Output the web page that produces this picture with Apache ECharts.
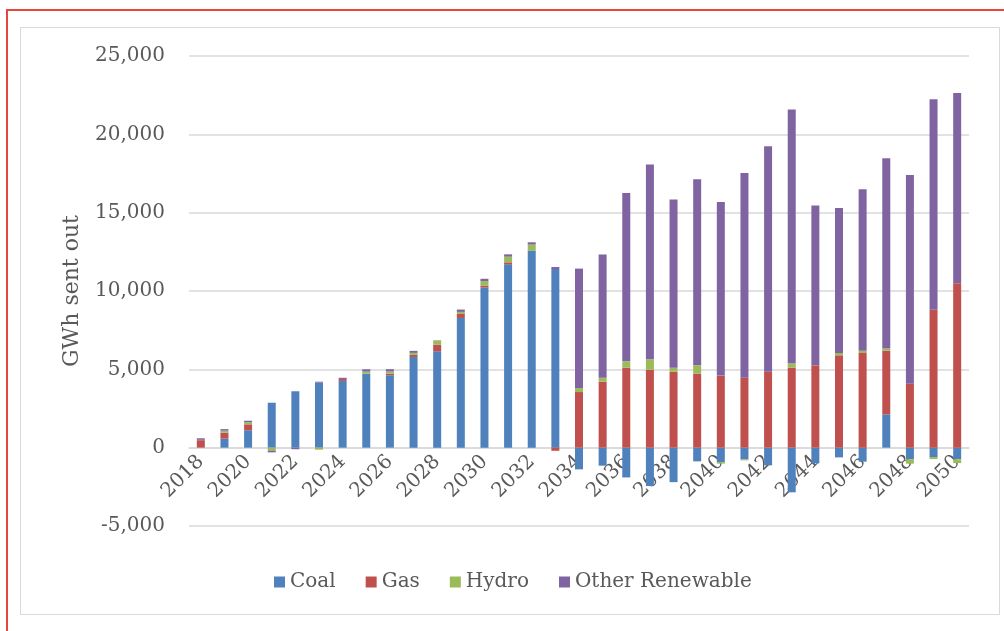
<!DOCTYPE html>
<html>
<head>
<meta charset="utf-8">
<script src="https://cdn.jsdelivr.net/npm/echarts@6/dist/echarts.min.js"></script>
<style>
  html, body { margin: 0; padding: 0; background: #fff; }
  #chart { width: 1004px; height: 631px; }
</style>
</head>
<body>
<div id="chart"></div>
<script>
// years on the x axis
const years = [];
for (let y = 2018; y <= 2050; y++) years.push(String(y));

// GWh sent out
const coal = [0, 575, 1110, 2870, 3600, 4150, 4260, 4725, 4620, 5790, 6150, 8280, 10220, 11700, 12580, 11400,
  -1385, -1150, -1900, -2450, -2200, -875, -920, -750, -1130, -2850, -1000, -620, -895, 2125, -750, -600, -745];
const gas = [480, 380, 380, 0, 0, 0, 120, 0, 110, 130, 430, 255, 130, 130, 0, -200,
  3550, 4215, 5110, 4980, 4850, 4725, 4600, 4470, 4850, 5110, 5255, 5895, 6040, 4070, 4085, 8810, 10490];
const hydro = [20, 130, 130, -180, 0, -130, 0, 130, 130, 130, 255, 130, 280, 360, 380, 0,
  255, 255, 400, 660, 255, 530, -100, -60, 0, 255, 0, 150, 150, 130, -270, -130, -240];
const otherRenewable = [100, 100, 100, -120, -100, 60, 80, 150, 150, 130, 20, 150, 150, 150, 150, 130,
  7625, 7855, 10750, 12430, 10735, 11880, 11080, 13065, 14390, 16215, 10195, 9255, 10305, 12150, 13325, 13430, 12155];

const yTicks = { min: -5000, max: 25000, interval: 5000 };

const font = 'DejaVu Serif';
const textColor = '#595959';
const gridColor = '#d9d9d9';

// plot box in pixels
const gridTop = 56, gridBottom = 105, chartH = 631;
const plotH = chartH - gridTop - gridBottom;
// move the category axis up from the bottom edge to the zero line
const zeroOffset = -plotH * (0 - yTicks.min) / (yTicks.max - yTicks.min);

function bar(name, data, color) {
  return {
    name: name,
    type: 'bar',
    stack: 'total',
    barWidth: 8,
    data: data,
    itemStyle: { color: color }
  };
}

const chart = echarts.init(document.getElementById('chart'), null, { renderer: 'canvas' });

chart.setOption({
  animation: false,
  backgroundColor: '#ffffff',
  textStyle: { fontFamily: font, color: textColor },
  graphic: [
    { type: 'rect', shape: { x: 7, y: 10, width: 1010, height: 640 }, style: { fill: 'none', stroke: '#e8463a', lineWidth: 2 }, z: -1 },
    { type: 'rect', shape: { x: 20.5, y: 27.5, width: 979, height: 587 }, style: { fill: 'none', stroke: '#d9d9d9', lineWidth: 1 }, z: -1 }
  ],
  grid: { left: 189, right: 35, top: gridTop, bottom: gridBottom, containLabel: false },
  legend: {
    left: 269,
    top: 567,
    itemWidth: 11,
    itemHeight: 11,
    itemGap: 30,
    icon: 'rect',
    textStyle: { fontFamily: font, fontSize: 20, color: textColor },
    data: ['Coal', 'Gas', 'Hydro', 'Other Renewable']
  },
  xAxis: {
    type: 'category',
    data: years,
    offset: zeroOffset,
    axisLine: { onZero: false, lineStyle: { color: gridColor, width: 1.5 } },
    axisTick: { show: false },
    axisLabel: {
      interval: 1,
      rotate: 45,
      margin: 11,
      fontFamily: font,
      fontSize: 20,
      color: textColor
    }
  },
  yAxis: {
    type: 'value',
    min: yTicks.min,
    max: yTicks.max,
    interval: yTicks.interval,
    name: 'GWh sent out',
    nameLocation: 'middle',
    nameGap: 106,
    nameTextStyle: { fontFamily: font, fontSize: 22, color: textColor },
    axisLine: { show: false },
    axisTick: { show: false },
    splitLine: { lineStyle: { color: gridColor, width: 1.5 } },
    axisLabel: {
      margin: 24,
      fontFamily: font,
      fontSize: 20,
      color: textColor,
      formatter: v => v.toLocaleString('en-US')
    }
  },
  series: [
    bar('Coal', coal, '#4f81bd'),
    bar('Gas', gas, '#c0504d'),
    bar('Hydro', hydro, '#9bbb59'),
    bar('Other Renewable', otherRenewable, '#8064a2')
  ]
});
</script>
</body>
</html>
